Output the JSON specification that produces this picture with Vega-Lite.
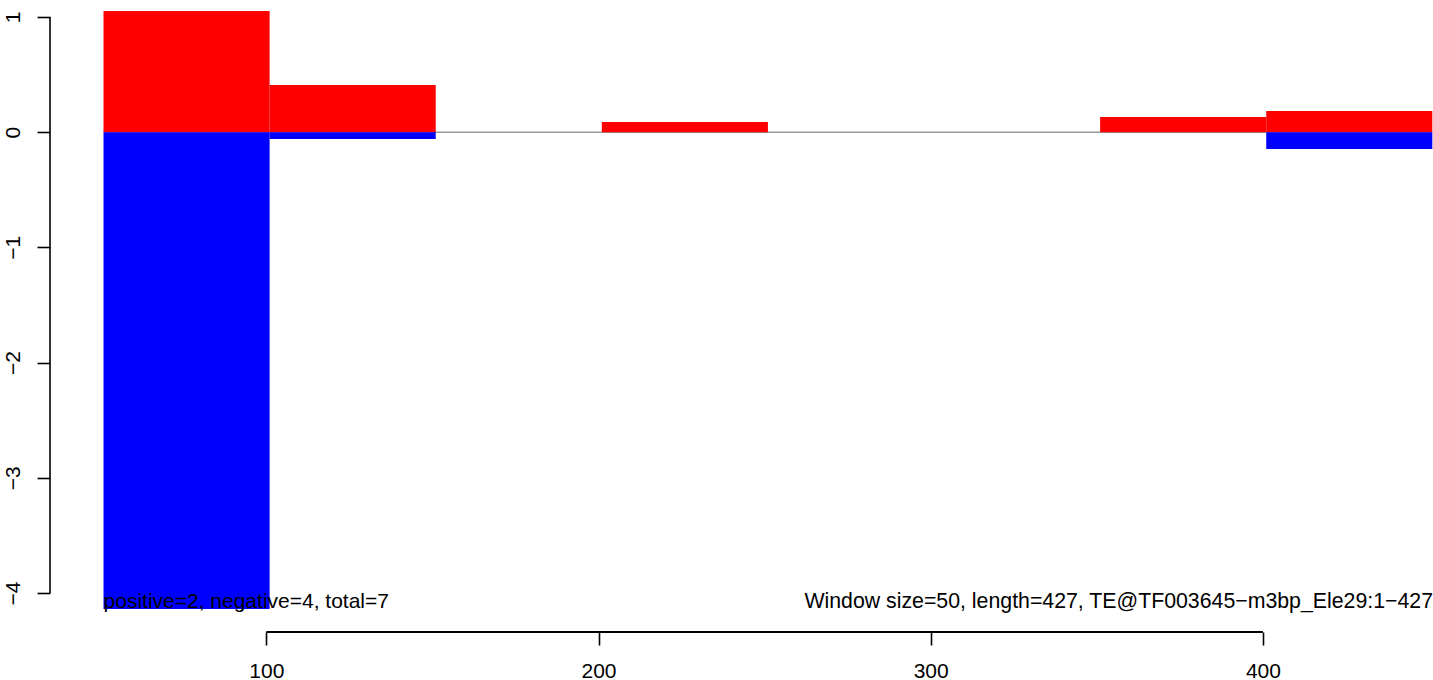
{
  "$schema": "https://vega.github.io/schema/vega-lite/v6.json",
  "width": 1383,
  "height": 632,
  "autosize": {"type": "none"},
  "padding": {"left": 50, "top": 0, "right": 0, "bottom": 48},
  "background": "white",
  "config": {"view": {"stroke": null}, "font": "Liberation Sans"},
  "datasets": {
    "bars": [
      {"start": 51, "end": 101, "value": 1.052, "sign": "positive"},
      {"start": 51, "end": 101, "value": -4.139, "sign": "negative"},
      {"start": 101, "end": 151, "value": 0.41, "sign": "positive"},
      {"start": 101, "end": 151, "value": -0.059, "sign": "negative"},
      {"start": 201, "end": 251, "value": 0.0885, "sign": "positive"},
      {"start": 351, "end": 401, "value": 0.132, "sign": "positive"},
      {"start": 401, "end": 451, "value": 0.184, "sign": "positive"},
      {"start": 401, "end": 451, "value": -0.146, "sign": "negative"}
    ],
    "zero": [{"start": 51, "end": 451, "value": 0}],
    "xline": [{"start": 100, "end": 400, "value": -4.3385}],
    "yline": [{"start": 34.89, "value": -4, "value2": 1}],
    "leftnote": [{"start": 51, "value": -4.13, "label": "positive=2, negative=4, total=7"}],
    "rightnote": [{"start": 451.2, "value": -4.13, "label": "Window size=50, length=427, TE@TF003645−m3bp_Ele29:1−427"}]
  },
  "layer": [
    {
      "data": {"name": "zero"},
      "mark": {"type": "rule", "color": "#9a9a9a", "strokeWidth": 1.5},
      "encoding": {
        "x": {"field": "start", "type": "quantitative",
          "scale": {"domain": [34.89, 451.2], "nice": false, "zero": false},
          "axis": {"values": [100, 200, 300, 400], "format": "d", "domain": false, "grid": false, "ticks": true, "tickSize": 13, "tickWidth": 1.6, "tickColor": "black",
            "labels": true, "labelPadding": 15, "labelFontSize": 21, "labelColor": "black", "labelFont": "Liberation Sans", "labelBaseline": "top",
            "labelFlush": false, "labelOverlap": false, "title": null}},
        "x2": {"field": "end"},
        "y": {"field": "value", "type": "quantitative",
          "scale": {"domain": [-4.3385, 1.1476], "nice": false, "zero": false},
          "axis": {"values": [1, 0, -1, -2, -3, -4], "format": "d", "domain": false, "grid": false, "ticks": true, "tickSize": 13, "tickWidth": 1.6, "tickColor": "black",
            "labels": true, "labelAngle": -90, "labelAlign": "center", "labelBaseline": "middle", "labelPadding": 24, "labelFontSize": 21,
            "labelColor": "black", "labelFont": "Liberation Sans", "labelFlush": false, "labelOverlap": false, "title": null}}
      }
    },
    {
      "data": {"name": "bars"},
      "mark": {"type": "rect"},
      "encoding": {
        "x": {"field": "start", "type": "quantitative"},
        "x2": {"field": "end"},
        "y": {"field": "value", "type": "quantitative"},
        "y2": {"datum": 0},
        "color": {"field": "sign", "type": "nominal",
          "scale": {"domain": ["positive", "negative"], "range": ["#ff0000", "#0000ff"]}, "legend": null}
      }
    },
    {
      "data": {"name": "xline"},
      "mark": {"type": "rule", "color": "black", "strokeWidth": 2},
      "encoding": {
        "x": {"field": "start", "type": "quantitative"},
        "x2": {"field": "end"},
        "y": {"field": "value", "type": "quantitative"}
      }
    },
    {
      "data": {"name": "yline"},
      "mark": {"type": "rule", "color": "black", "strokeWidth": 1.6},
      "encoding": {
        "x": {"field": "start", "type": "quantitative"},
        "y": {"field": "value", "type": "quantitative"},
        "y2": {"field": "value2"}
      }
    },
    {
      "data": {"name": "leftnote"},
      "mark": {"type": "text", "align": "left", "baseline": "alphabetic", "fontSize": 21, "font": "Liberation Sans", "color": "black"},
      "encoding": {
        "x": {"field": "start", "type": "quantitative"},
        "y": {"field": "value", "type": "quantitative"},
        "text": {"field": "label"}
      }
    },
    {
      "data": {"name": "rightnote"},
      "mark": {"type": "text", "align": "right", "baseline": "alphabetic", "fontSize": 21.3, "font": "Liberation Sans", "color": "black"},
      "encoding": {
        "x": {"field": "start", "type": "quantitative"},
        "y": {"field": "value", "type": "quantitative"},
        "text": {"field": "label"}
      }
    }
  ]
}
